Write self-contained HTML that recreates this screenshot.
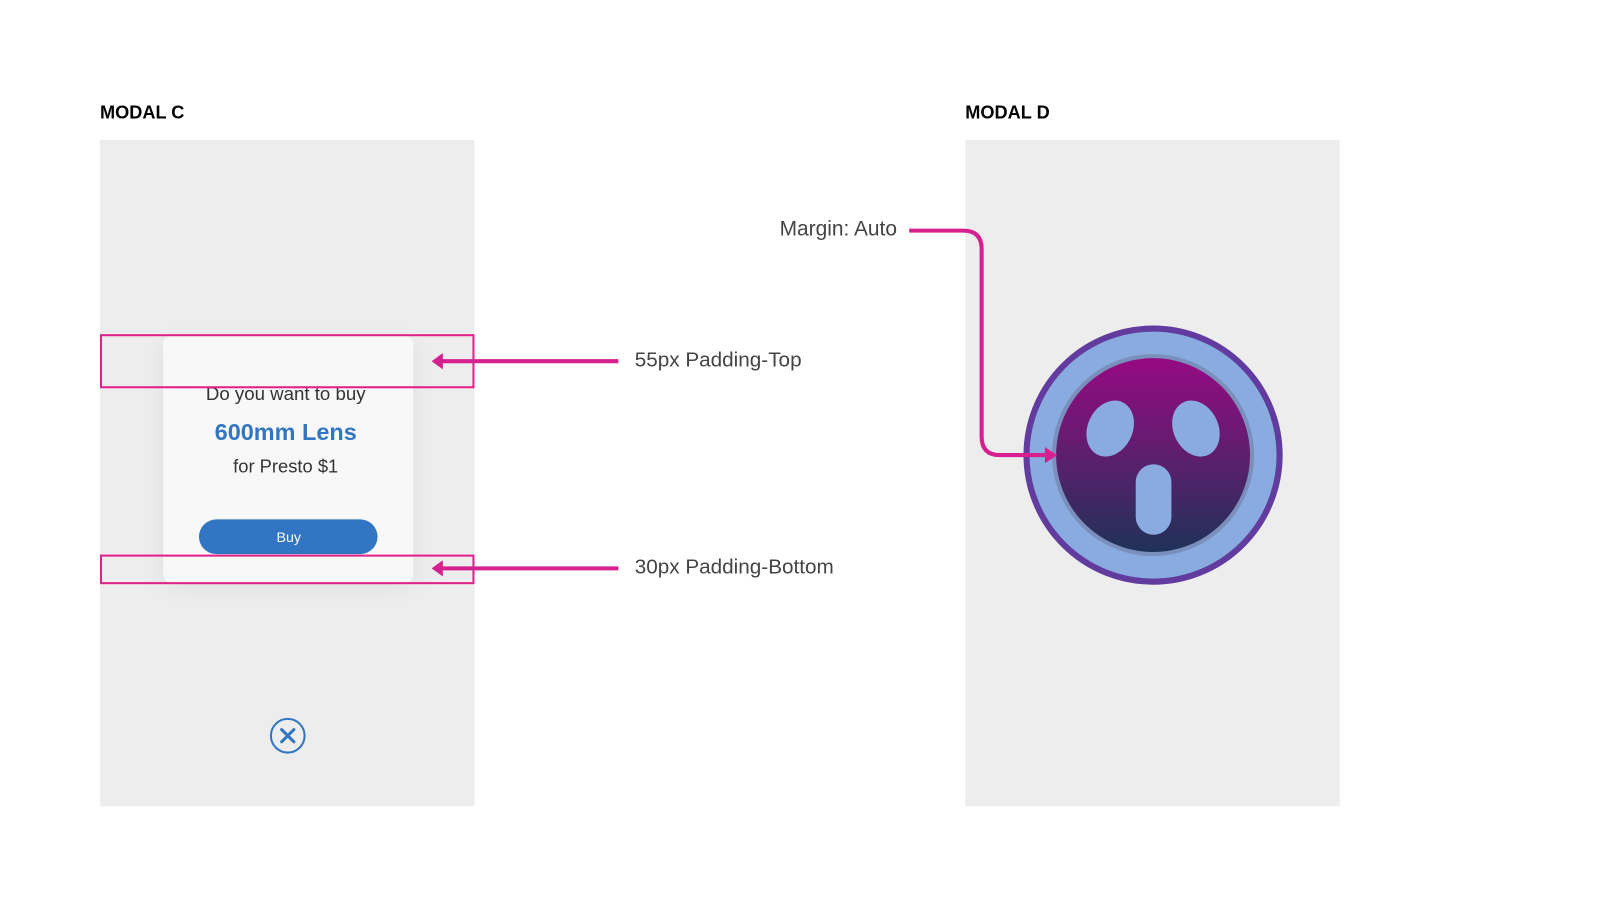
<!DOCTYPE html>
<html><head><meta charset="utf-8"><style>
html,body{margin:0;padding:0;background:#fff;width:1600px;height:900px;overflow:hidden}
svg{display:block}
text{font-family:"Liberation Sans",sans-serif}
</style></head><body>
<svg width="1600" height="900" viewBox="0 0 1568 882" preserveAspectRatio="none" xmlns="http://www.w3.org/2000/svg">
<defs>
<linearGradient id="g" x1="0" y1="0" x2="0" y2="1">
<stop offset="0" stop-color="#960a82"/><stop offset="0.5" stop-color="#5e1e6e"/><stop offset="1" stop-color="#1e3258"/>
</linearGradient>
<filter id="sh" x="-30%" y="-30%" width="160%" height="160%"><feGaussianBlur stdDeviation="12"/></filter>
</defs>
<text x="98" y="116" font-size="17.8" font-weight="bold" fill="#000">MODAL C</text>
<text x="946" y="116" font-size="17.8" font-weight="bold" fill="#000">MODAL D</text>
<rect x="98" y="137" width="367" height="653" fill="#ededed"/>
<rect x="946" y="137" width="367" height="653" fill="#ededed"/>
<!-- card -->
<rect x="160" y="335" width="245" height="240" rx="10" fill="#000" opacity="0.06" filter="url(#sh)"/>
<rect x="160" y="329" width="245" height="242" rx="8" fill="#f8f8f8"/>
<text x="280" y="392" font-size="18.3" fill="#333" text-anchor="middle">Do you want to buy</text>
<text x="280" y="431" font-size="23" fill="#3275c3" text-anchor="middle" font-weight="bold">600mm Lens</text>
<text x="280" y="463" font-size="18" fill="#333" text-anchor="middle">for Presto $1</text>
<rect x="195" y="509" width="175" height="34" rx="17" fill="#3275c3"/>
<text x="283" y="531" font-size="14" fill="#fff" text-anchor="middle">Buy</text>
<rect x="99" y="328.5" width="365" height="51" fill="none" stroke="#e0218a" stroke-width="2"/>
<rect x="99" y="544.5" width="365" height="27" fill="none" stroke="#e0218a" stroke-width="2"/>
<line x1="432" y1="354" x2="606" y2="354" stroke="#d6208e" stroke-width="4"/>
<polygon points="423,354 434,346 434,362" fill="#d6208e"/>
<line x1="432" y1="557" x2="606" y2="557" stroke="#d6208e" stroke-width="4"/>
<polygon points="423,557 434,549 434,565" fill="#d6208e"/>
<text x="622" y="359" font-size="20.3" fill="#444">55px Padding-Top</text>
<text x="622" y="562" font-size="20.3" fill="#444">30px Padding-Bottom</text>
<!-- close -->
<circle cx="282" cy="721" r="16.5" fill="none" stroke="#3275c3" stroke-width="2"/>
<path d="M276 715 L288 727 M288 715 L276 727" stroke="#3275c3" stroke-width="3" stroke-linecap="round"/>
<!-- face -->
<circle cx="1130" cy="446" r="124" fill="#89abe0" stroke="#623b9e" stroke-width="6"/>
<circle cx="1130" cy="446" r="99" fill="#7a8fbb"/>
<circle cx="1130" cy="446" r="95" fill="url(#g)"/>
<ellipse cx="1088" cy="420" rx="22" ry="28.5" transform="rotate(25 1088 420)" fill="#89abe0"/>
<ellipse cx="1172" cy="420" rx="22" ry="28.5" transform="rotate(-25 1172 420)" fill="#89abe0"/>
<rect x="1113" y="455" width="35" height="69" rx="17.5" fill="#89abe0"/>
<!-- margin connector -->
<text x="764" y="231" font-size="20.5" fill="#444">Margin: Auto</text>
<path d="M891 226 H944 Q962 226 962 244 V428 Q962 446 980 446 H1024" fill="none" stroke="#d6208e" stroke-width="4"/>
<polygon points="1036,446 1024,438 1024,454" fill="#d6208e"/>
</svg>
</body></html>
